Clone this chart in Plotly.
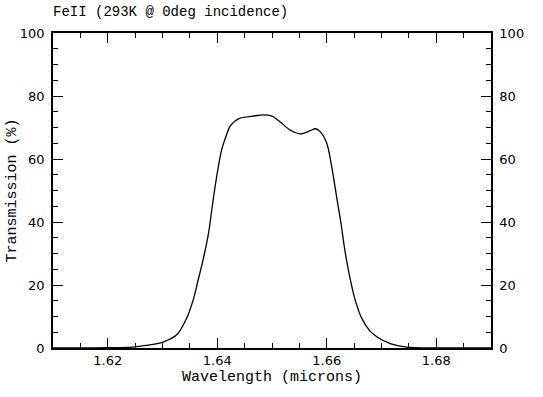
import plotly.graph_objects as go

# Data
wavelength = [1.6100, 1.6150, 1.6200, 1.6245, 1.6270, 1.6301, 1.6326, 1.6344,
              1.6356, 1.6365, 1.6374, 1.6384, 1.6390, 1.6396, 1.6402, 1.6408,
              1.6417, 1.6423, 1.6432, 1.6442, 1.6465, 1.6484, 1.6499, 1.6514,
              1.6533, 1.6551, 1.6570, 1.6579, 1.6588, 1.6600, 1.6609, 1.6618,
              1.6626, 1.6633, 1.6642, 1.6652, 1.6664, 1.6678, 1.6692, 1.6716,
              1.6746, 1.6800, 1.6850, 1.6900]
transmission = [0.0, 0.02, 0.1, 0.3, 0.8, 1.9, 4.2, 9.4,
                15.2, 21.5, 27.9, 36.4, 43.8, 51.2, 57.6, 62.9,
                67.7, 70.3, 72.0, 73.0, 73.6, 74.0, 73.7, 71.9,
                69.2, 68.0, 69.0, 69.6, 68.7, 65.0, 57.6, 48.0,
                39.6, 31.1, 22.6, 15.2, 9.4, 5.6, 3.5, 1.4,
                0.3, 0.05, 0.01, 0.0]

x_ticks = [1.62, 1.64, 1.66, 1.68]
x_tick_labels = ["1.62", "1.64", "1.66", "1.68"]
y_ticks = [0, 20, 40, 60, 80, 100]

title_text = "FeII (293K @ 0deg incidence)"
x_title = "Wavelength (microns)"
y_title = "Transmission (%)"

mono = "Liberation Mono"
sans = "DejaVu Sans"

fig = go.Figure()
fig.add_trace(go.Scatter(x=wavelength, y=transmission, mode="lines",
                         line=dict(color="black", width=1.3, shape="spline", smoothing=0.9),
                         showlegend=False, hoverinfo="skip"))
fig.add_trace(go.Scatter(x=wavelength, y=transmission, mode="lines", yaxis="y2",
                         line=dict(color="rgba(0,0,0,0)", width=0),
                         showlegend=False, hoverinfo="skip"))

axis_common = dict(showline=True, linecolor="black", linewidth=1.5,
                   ticks="inside", ticklen=10, tickwidth=1.2, tickcolor="black",
                   showgrid=False, zeroline=False, automargin=False,
                   tickfont=dict(family=sans, size=13, color="black"))

fig.update_layout(
    width=543, height=397,
    margin=dict(l=53, r=52, t=33, b=49),
    plot_bgcolor="white", paper_bgcolor="white",
    title=dict(text=title_text, x=53 / 543, xanchor="left", y=1 - 11 / 397, yanchor="middle",
               font=dict(family=mono, size=14, color="black")),
    xaxis=dict(range=[1.61, 1.69], tickvals=x_ticks, ticktext=x_tick_labels,
               mirror="ticks",
               minor=dict(dtick=0.005, tick0=1.61, ticklen=5, ticks="inside", tickcolor="black", tickwidth=1.2),
               title=dict(text=x_title, font=dict(family=mono, size=15, color="black"), standoff=3),
               **axis_common),
    yaxis=dict(range=[0, 100], tickvals=y_ticks,
               minor=dict(dtick=5, ticklen=5, ticks="inside", tickcolor="black", tickwidth=1.2),
               title=dict(text=y_title, font=dict(family=mono, size=15, color="black"), standoff=0),
               ticklabelstandoff=4,
               **axis_common),
    yaxis2=dict(range=[0, 100], tickvals=y_ticks, overlaying="y", side="right",
                minor=dict(dtick=5, ticklen=5, ticks="inside", tickcolor="black", tickwidth=1.2),
                ticklabelstandoff=4,
                **axis_common),
)

fig.write_html("out.html", config={"displayModeBar": False},
               post_script="document.body.style.margin='0';")
